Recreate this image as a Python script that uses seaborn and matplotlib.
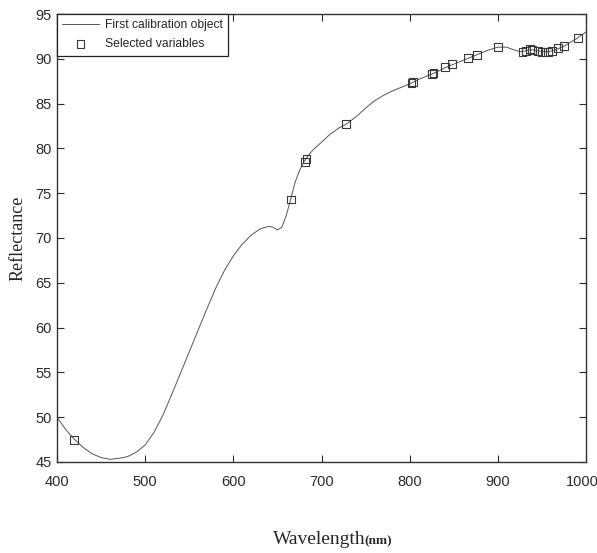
import numpy as np
import pandas as pd
import matplotlib
matplotlib.use("Agg")
import matplotlib.pyplot as plt
import matplotlib.transforms as mtransforms
import seaborn as sns

# Spectrum of the first calibration object
wavelength = [400, 410, 420, 430, 440, 450, 460, 470, 480, 490, 500, 510, 520, 530, 540,
              550, 560, 570, 580, 590, 600, 610, 620, 630, 640, 645, 650, 655, 660, 665,
              670, 675, 680, 685, 690, 700, 710, 720, 728, 740, 750, 760, 770, 780, 790,
              800, 810, 820, 830, 840, 850, 860, 870, 880, 890, 900, 910, 918, 925, 930,
              935, 940, 945, 950, 955, 960, 965, 970, 975, 980, 990, 1000]
reflectance = [50.0, 48.6, 47.5, 46.6, 45.9, 45.5, 45.3, 45.4, 45.6, 46.1, 46.9, 48.3, 50.2, 52.5, 54.9,
               57.3, 59.7, 62.1, 64.4, 66.4, 68.0, 69.3, 70.3, 71.0, 71.3, 71.2, 70.9, 71.2, 72.5, 74.3,
               76.2, 77.5, 78.5, 79.2, 79.8, 80.7, 81.6, 82.3, 82.7, 83.6, 84.5, 85.3, 85.9, 86.4, 86.8,
               87.2, 87.7, 88.1, 88.5, 89.0, 89.4, 89.8, 90.2, 90.6, 91.0, 91.3, 91.3, 91.0, 90.8, 90.85,
               91.0, 91.0, 90.9, 90.8, 90.8, 90.85, 91.0, 91.2, 91.4, 91.7, 92.3, 93.0]

# Selected variables
sel_wavelength = [419, 665, 681, 683, 728, 802, 804, 825, 827, 840, 848, 866, 876, 900,
                  928, 932, 936, 939, 946, 950, 953, 957, 961, 968, 975, 991]
sel_reflectance = [47.5, 74.3, 78.5, 78.8, 82.7, 87.3, 87.4, 88.3, 88.4, 89.1, 89.4, 90.05, 90.4, 91.3,
                   90.8, 90.9, 91.05, 91.0, 90.9, 90.8, 90.8, 90.8, 90.85, 91.2, 91.4, 92.3]

x_ticks = [400, 500, 600, 700, 800, 900, 1000]
y_ticks = [45, 50, 55, 60, 65, 70, 75, 80, 85, 90, 95]

sns.set_style("ticks")
plt.rcParams['font.family'] = ['Liberation Sans', 'DejaVu Sans']

spec = pd.DataFrame({"Wavelength": wavelength, "Reflectance": reflectance})
sel = pd.DataFrame({"Wavelength": sel_wavelength, "Reflectance": sel_reflectance})

fig = plt.figure(figsize=(5.97, 5.53), dpi=100)
ax = fig.add_axes([57/597, 1 - 462/553, (586-57)/597, (462-14)/553])

sns.lineplot(data=spec, x="Wavelength", y="Reflectance", ax=ax, color="#555555",
             linewidth=0.7, label="First calibration object", zorder=2)
sns.scatterplot(data=sel, x="Wavelength", y="Reflectance", ax=ax, marker="s", s=32,
                facecolor="none", edgecolor="#3a3a3a", linewidth=0.8,
                label="Selected variables", zorder=3)

ax.set_xlim(400, 1000)
ax.set_ylim(45, 95)
ax.set_xticks(x_ticks)
ax.set_yticks(y_ticks)
ax.tick_params(direction="in", length=5, width=0.8, labelsize=10.5, colors="#2a2a2a",
               top=True, right=True, labeltop=False, labelright=False)
ax.tick_params(axis="x", pad=9)
ax.tick_params(axis="y", pad=4)
for sp in ax.spines.values():
    sp.set_visible(True)
    sp.set_linewidth(1.0)
    sp.set_color("#333333")

# nudge the last x tick label so it stays inside the figure
last = ax.get_xticklabels()[-1]
last.set_transform(last.get_transform() + mtransforms.ScaledTranslation(-4/100, 0, fig.dpi_scale_trans))

ax.set_xlabel("")
ax.set_ylabel("Reflectance", family=["Liberation Serif"], fontsize=13, labelpad=6)

fig.text(273/597, 1 - 540/553, "Wavelength", family=["Liberation Serif"], fontsize=14,
         ha="left", va="center")
fig.text(364/597, 1 - 541/553, "(nm)", family=["Liberation Serif"], fontsize=9.5,
         fontweight="bold", ha="left", va="center")

leg = ax.legend(loc="upper left", frameon=True, fancybox=False, fontsize=8.7,
                borderaxespad=0, handlelength=3.0, handletextpad=0.5,
                borderpad=0.45, labelspacing=0.55)
leg.get_frame().set_edgecolor("#222222")
leg.get_frame().set_linewidth(0.9)
leg.get_frame().set_alpha(1)

fig.savefig("out.png", dpi=100, facecolor="white")
